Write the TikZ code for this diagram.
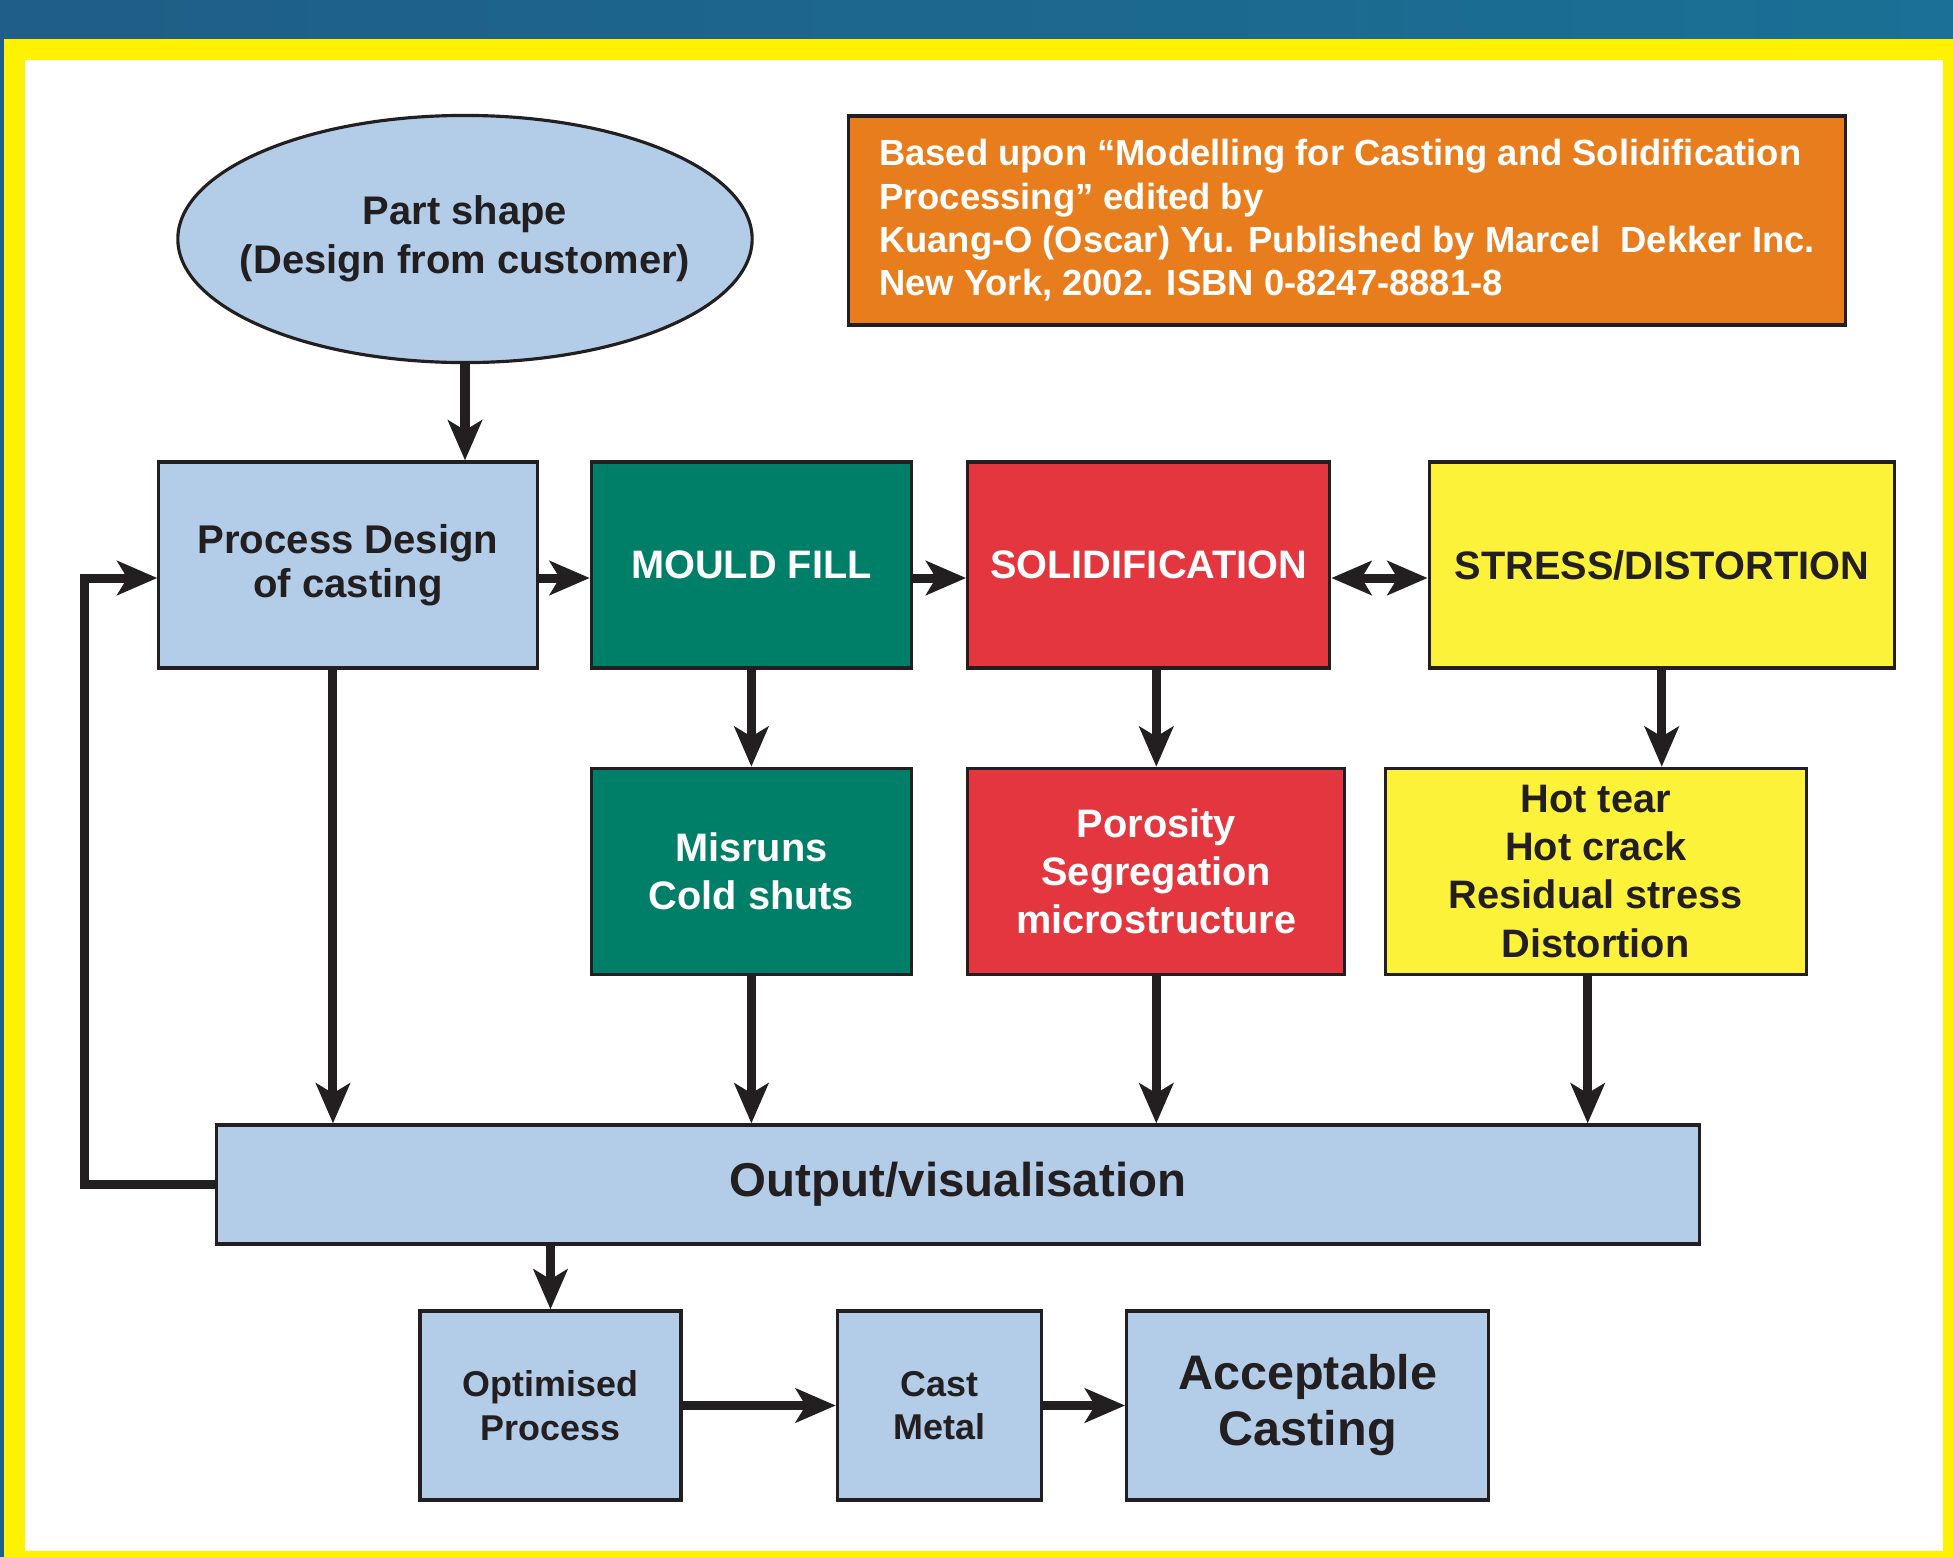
\documentclass[tikz,border=0pt]{standalone}
\usepackage{fontspec}
\setmainfont{Liberation Sans}
\usepackage{xcolor}
\usepackage{tikz}
\usetikzlibrary{positioning}
\usetikzlibrary{arrows.meta}
\usetikzlibrary{shapes.geometric}
\definecolor{banddark}{HTML}{1F5E86}
\definecolor{bandlight}{HTML}{1A7096}
\definecolor{frameyellow}{HTML}{FFF200}
\definecolor{paleblue}{HTML}{B3CDE8}
\definecolor{fillgreen}{HTML}{007F68}
\definecolor{solidred}{HTML}{E3363E}
\definecolor{stressyellow}{HTML}{FDF23A}
\definecolor{noteorange}{HTML}{E87D1E}
\definecolor{ink}{HTML}{231F20}
\newcommand{\boxfont}{\fontsize{11.3}{13.7}\selectfont\bfseries}
\tikzset{	node distance=0.97cm,
	box/.style={
		draw=ink,
		line width=0.9pt,
		align=center,
		inner sep=2pt,
		minimum height=2.06cm,
		font=\boxfont},
	bluebox/.style={box, fill=paleblue, text=ink},
	greenbox/.style={box, fill=fillgreen, text=white, minimum width=3.2cm},
	redbox/.style={box, fill=solidred, text=white},
	yellowbox/.style={box, fill=stressyellow, text=ink},
	flow/.style={
		draw=ink,
		line width=0.09cm,
		-{Stealth[length=0.4cm,width=0.34cm,inset=0.1cm]}},
	twoway/.style={flow,
		{Stealth[length=0.4cm,width=0.34cm,inset=0.1cm]}-{Stealth[length=0.4cm,width=0.34cm,inset=0.1cm]}}
}

\begin{document}
\begin{tikzpicture}[x=0.01cm, y=-0.01cm]
				\useasboundingbox (0,0) rectangle (1953,1557);
				\shade[left color=banddark, right color=bandlight] (0,0) rectangle (1953,1557);
				\fill[frameyellow] (4,39) rectangle (1953,1557);
				\fill[white] (25,60) rectangle (1943,1551);
				\node[ellipse, draw=ink, line width=0.9pt, fill=paleblue, text=ink, inner xsep=-0.23cm, inner ysep=0pt,
					minimum width=5.74cm, minimum height=2.47cm, align=center,
					font=\fontsize{11.35}{13.8}\selectfont\bfseries] (shape) at (465,239) {Part shape\\(Design from customer)};
				\node[draw=ink, line width=0.9pt, fill=noteorange, text=white, align=left,
					minimum width=9.96cm, minimum height=2.09cm,
					font=\fontsize{10.35}{12.3}\selectfont\bfseries] (source) at (1347,220.5)
					{Based upon “Modelling for Casting and Solidification\\Processing” edited by\\Kuang-O (Oscar) Yu. Published by Marcel\ \ Dekker Inc.\\New York, 2002. ISBN 0-8247-8881-8};
				\node[bluebox, minimum width=3.78cm, font=\fontsize{11.4}{12.4}\selectfont\bfseries] (design) at (348,565) {Process Design\\of casting};
				\node[greenbox, right=0.51cm of design] (fill) {MOULD FILL};
				\node[redbox, minimum width=3.62cm, right=0.53cm of fill] (solid) {SOLIDIFICATION};
				\node[yellowbox, minimum width=4.65cm, right=0.96cm of solid] (stress) {STRESS/DISTORTION};
				\node[greenbox, below=of fill] (misrun) {Misruns\\Cold shuts};
				\node[redbox, minimum width=3.77cm, below right=0.97cm and 0cm of solid.south west] (defect) {Porosity\\Segregation\\microstructure};
				\node[yellowbox, minimum width=4.21cm, below=of stress, xshift=-0.66cm] (crack) {Hot tear\\Hot crack\\Residual stress\\Distortion};
				\node[bluebox, minimum width=14.82cm, minimum height=1.19cm,
					font=\fontsize{13.5}{16}\selectfont\bfseries] (output) at (958,1184.5) {Output/visualisation};
				\node[bluebox, minimum width=2.61cm, minimum height=1.89cm,
					font=\fontsize{10.2}{12.4}\selectfont\bfseries] (optimum) at (550.5,1405.5) {Optimised\\Process};
				\node[bluebox, minimum width=2.04cm, minimum height=1.89cm, right=1.53cm of optimum,
					font=\fontsize{10.2}{12.4}\selectfont\bfseries] (cast) {Cast\\Metal};
				\node[bluebox, minimum width=3.62cm, minimum height=1.89cm, right=0.82cm of cast,
					font=\fontsize{13.8}{15.9}\selectfont\bfseries] (accept) {Acceptable\\Casting};
				\draw[flow] (shape.south) -- (shape.south |- design.north);
				\draw[flow] ([yshift=-0.13cm]design.east) -- ([yshift=-0.13cm]fill.west);
				\draw[flow] ([yshift=-0.13cm]fill.east) -- ([yshift=-0.13cm]solid.west);
				\draw[twoway] ([yshift=-0.13cm]solid.east) -- ([yshift=-0.13cm]stress.west);
				\draw[flow] (output.west) -- ++(-1.3cm,0) |- ([yshift=-0.13cm]design.west);
				\draw[flow] ([xshift=-0.15cm]design.south) -- ([xshift=-0.15cm]design.south |- output.north);
				\draw[flow] (fill) -- (misrun);
				\draw[flow] (misrun.south) -- (misrun.south |- output.north);
				\draw[flow] (defect.north |- solid.south) -- (defect.north);
				\draw[flow] (defect.south) -- (defect.south |- output.north);
				\draw[flow] (stress.south) -- (stress.south |- crack.north);
				\draw[flow] ([xshift=-0.08cm]crack.south) -- ([xshift=-0.08cm]crack.south |- output.north);
				\draw[flow] (optimum.north |- output.south) -- (optimum.north);
				\draw[flow] (optimum) -- (cast);
				\draw[flow] (cast) -- (accept);
			\end{tikzpicture}
\end{document}
